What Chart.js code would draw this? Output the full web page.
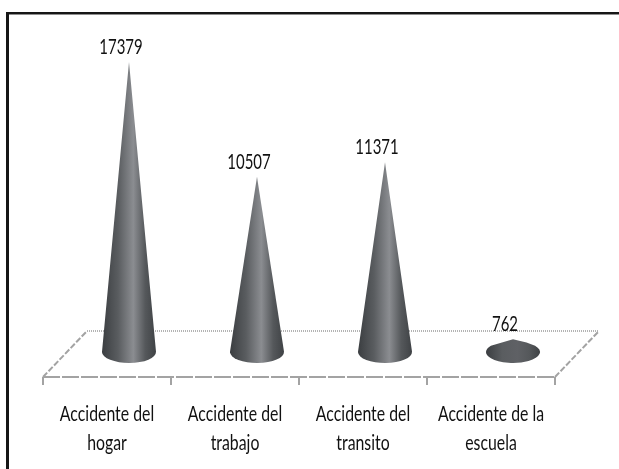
<!DOCTYPE html>
<html>
<head>
<meta charset="utf-8">
<script src="https://cdn.jsdelivr.net/npm/chart.js@4/dist/chart.umd.min.js"></script>
<style>
  html, body { margin: 0; padding: 0; background: #fff; }
  #wrap { position: relative; width: 619px; height: 469px; overflow: hidden; }
  #frame { position: absolute; left: 6px; top: 12px; width: 640px; height: 480px; border-top: 2px solid #161616; border-left: 3px solid #161616; box-shadow: inset 0 1px 0 #8f8f8f; }
  canvas { position: absolute; left: 0; top: 0; }
</style>
</head>
<body>
<div id="wrap">
  <canvas id="chart" width="619" height="469"></canvas>
  <div id="frame"></div>
</div>
<script>
// Datos
const categories = [
    ['Accidente del', 'hogar'],
    ['Accidente del', 'trabajo'],
    ['Accidente del', 'transito'],
    ['Accidente de la', 'escuela']
];
const values = [17379, 10507, 11371, 762];

// Profundidad del piso 3D, en pixeles
const DEPTH_X = 44;
const DEPTH_Y = 46;
const CONE_RX = 27;
const CONE_RY = 11;

// Texto angosto: la imagen original esta estirada en vertical
const TEXT_FONT = '22px Lato, "Liberation Sans", sans-serif';
const LABEL_SCALE = 0.72;
const VALUE_SCALE = 0.68;

function narrowText(ctx, text, x, y, scaleX) {
    ctx.save();
    ctx.translate(x, y);
    ctx.scale(scaleX, 1);
    ctx.fillStyle = '#111';
    ctx.font = TEXT_FONT;
    ctx.textAlign = 'center';
    ctx.textBaseline = 'alphabetic';
    ctx.fillText(text, 0, 0);
    ctx.restore();
}

// Piso en perspectiva, conos y textos a partir de las barras y escalas del chart
const conePlugin = {
    id: 'cones',
    beforeDatasetsDraw(chart) {
        const { ctx, scales: { x } } = chart;
        const back = x.top - DEPTH_Y;
        ctx.save();
        ctx.lineWidth = 2;
        ctx.strokeStyle = '#b4b4b4';
        ctx.setLineDash([1, 1]);
        ctx.beginPath();
        ctx.moveTo(x.left + DEPTH_X, back);
        ctx.lineTo(x.right + DEPTH_X, back);
        ctx.stroke();
        ctx.strokeStyle = '#a3a3a3';
        ctx.setLineDash([6, 2]);
        ctx.beginPath();
        ctx.moveTo(x.left, x.top);
        ctx.lineTo(x.left + DEPTH_X, back);
        ctx.moveTo(x.right, x.top);
        ctx.lineTo(x.right + DEPTH_X, back);
        ctx.stroke();
        ctx.setLineDash([17, 2]);
        ctx.beginPath();
        ctx.moveTo(x.left, x.top);
        ctx.lineTo(x.right, x.top);
        ctx.stroke();
        ctx.restore();
    },
    afterDatasetsDraw(chart) {
        const { ctx, scales: { x } } = chart;
        const bars = chart.getDatasetMeta(0).data;
        bars.forEach((bar, i) => {
            const cx = bar.x + DEPTH_X / 2;
            const h = bar.base - bar.y;
            // Punto donde el costado del cono toca la elipse de la base
            const k = Math.min(CONE_RY / h, 1);
            const tx = CONE_RX * Math.sqrt(1 - k * k);
            const ty = bar.base - CONE_RY * k;
            const a = Math.atan2(-CONE_RY * k, tx);
            const grad = ctx.createLinearGradient(cx - CONE_RX, 0, cx + CONE_RX, 0);
            grad.addColorStop(0, '#3b3e41');
            grad.addColorStop(0.3, '#5a5d60');
            grad.addColorStop(0.58, h < 30 ? '#5f6165' : '#8b8d91');
            grad.addColorStop(0.8, '#55585b');
            grad.addColorStop(1, '#3f4245');
            ctx.save();
            ctx.fillStyle = grad;
            ctx.beginPath();
            ctx.moveTo(cx, bar.y);
            ctx.lineTo(cx + tx, ty);
            ctx.ellipse(cx, bar.base, CONE_RX, CONE_RY, 0, a, Math.PI - a);
            ctx.closePath();
            ctx.fill();
            ctx.restore();
            narrowText(ctx, String(values[i]), bar.x + 14, bar.y - 8, VALUE_SCALE);
        });
        categories.forEach((lines, i) => {
            const px = x.getPixelForTick(i);
            lines.forEach((line, j) => narrowText(ctx, line, px, 421 + j * 29, LABEL_SCALE));
        });
    }
};

new Chart(document.getElementById('chart').getContext('2d'), {
    type: 'bar',
    data: {
        labels: categories,
        datasets: [{
            data: values,
            backgroundColor: 'transparent',
            borderWidth: 0
        }]
    },
    options: {
        responsive: false,
        animation: false,
        layout: { padding: { left: 43, right: 64, top: 35, bottom: 0 } },
        plugins: {
            legend: { display: false },
            tooltip: { enabled: false }
        },
        scales: {
            x: {
                afterFit(scale) { scale.height = 92; },
                border: { display: false },
                grid: {
                    color: '#a3a3a3',
                    lineWidth: 2,
                    drawOnChartArea: false,
                    drawTicks: true,
                    tickLength: 8
                },
                ticks: { display: false }
            },
            y: {
                display: false,
                min: -1500,
                max: 19000
            }
        }
    },
    plugins: [conePlugin]
});
</script>
</body>
</html>
